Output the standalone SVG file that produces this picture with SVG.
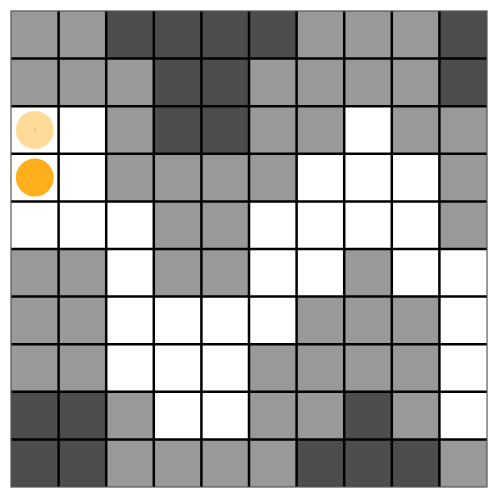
<svg xmlns="http://www.w3.org/2000/svg" width="499" height="499" viewBox="0 0 499 499">
<style>
.w{fill:#ffffff}.g{fill:#999999}.d{fill:#4d4d4d}
.grid line{stroke:#000;stroke-width:2.5}
</style>
<rect width="499" height="499" fill="#fff"/>
<g id="cells">
<!-- row 0 -->
<rect class="g" x="11" y="11" width="47.6" height="47.6"/><rect class="g" x="58.6" y="11" width="47.6" height="47.6"/><rect class="d" x="106.2" y="11" width="47.6" height="47.6"/><rect class="d" x="153.8" y="11" width="47.6" height="47.6"/><rect class="d" x="201.4" y="11" width="47.6" height="47.6"/><rect class="d" x="249" y="11" width="47.6" height="47.6"/><rect class="g" x="296.6" y="11" width="47.6" height="47.6"/><rect class="g" x="344.2" y="11" width="47.6" height="47.6"/><rect class="g" x="391.8" y="11" width="47.6" height="47.6"/><rect class="d" x="439.4" y="11" width="47.6" height="47.6"/>
<!-- row 1 -->
<rect class="g" x="11" y="58.6" width="47.6" height="47.6"/><rect class="g" x="58.6" y="58.6" width="47.6" height="47.6"/><rect class="g" x="106.2" y="58.6" width="47.6" height="47.6"/><rect class="d" x="153.8" y="58.6" width="47.6" height="47.6"/><rect class="d" x="201.4" y="58.6" width="47.6" height="47.6"/><rect class="g" x="249" y="58.6" width="47.6" height="47.6"/><rect class="g" x="296.6" y="58.6" width="47.6" height="47.6"/><rect class="g" x="344.2" y="58.6" width="47.6" height="47.6"/><rect class="g" x="391.8" y="58.6" width="47.6" height="47.6"/><rect class="d" x="439.4" y="58.6" width="47.6" height="47.6"/>
<!-- row 2 -->
<rect class="w" x="11" y="106.2" width="47.6" height="47.6"/><rect class="w" x="58.6" y="106.2" width="47.6" height="47.6"/><rect class="g" x="106.2" y="106.2" width="47.6" height="47.6"/><rect class="d" x="153.8" y="106.2" width="47.6" height="47.6"/><rect class="d" x="201.4" y="106.2" width="47.6" height="47.6"/><rect class="g" x="249" y="106.2" width="47.6" height="47.6"/><rect class="g" x="296.6" y="106.2" width="47.6" height="47.6"/><rect class="w" x="344.2" y="106.2" width="47.6" height="47.6"/><rect class="g" x="391.8" y="106.2" width="47.6" height="47.6"/><rect class="g" x="439.4" y="106.2" width="47.6" height="47.6"/>
<!-- row 3 -->
<rect class="w" x="11" y="153.8" width="47.6" height="47.6"/><rect class="w" x="58.6" y="153.8" width="47.6" height="47.6"/><rect class="g" x="106.2" y="153.8" width="47.6" height="47.6"/><rect class="g" x="153.8" y="153.8" width="47.6" height="47.6"/><rect class="g" x="201.4" y="153.8" width="47.6" height="47.6"/><rect class="g" x="249" y="153.8" width="47.6" height="47.6"/><rect class="w" x="296.6" y="153.8" width="47.6" height="47.6"/><rect class="w" x="344.2" y="153.8" width="47.6" height="47.6"/><rect class="w" x="391.8" y="153.8" width="47.6" height="47.6"/><rect class="g" x="439.4" y="153.8" width="47.6" height="47.6"/>
<!-- row 4 -->
<rect class="w" x="11" y="201.4" width="47.6" height="47.6"/><rect class="w" x="58.6" y="201.4" width="47.6" height="47.6"/><rect class="w" x="106.2" y="201.4" width="47.6" height="47.6"/><rect class="g" x="153.8" y="201.4" width="47.6" height="47.6"/><rect class="g" x="201.4" y="201.4" width="47.6" height="47.6"/><rect class="w" x="249" y="201.4" width="47.6" height="47.6"/><rect class="w" x="296.6" y="201.4" width="47.6" height="47.6"/><rect class="w" x="344.2" y="201.4" width="47.6" height="47.6"/><rect class="w" x="391.8" y="201.4" width="47.6" height="47.6"/><rect class="g" x="439.4" y="201.4" width="47.6" height="47.6"/>
<!-- row 5 -->
<rect class="g" x="11" y="249" width="47.6" height="47.6"/><rect class="g" x="58.6" y="249" width="47.6" height="47.6"/><rect class="w" x="106.2" y="249" width="47.6" height="47.6"/><rect class="g" x="153.8" y="249" width="47.6" height="47.6"/><rect class="g" x="201.4" y="249" width="47.6" height="47.6"/><rect class="w" x="249" y="249" width="47.6" height="47.6"/><rect class="w" x="296.6" y="249" width="47.6" height="47.6"/><rect class="g" x="344.2" y="249" width="47.6" height="47.6"/><rect class="w" x="391.8" y="249" width="47.6" height="47.6"/><rect class="w" x="439.4" y="249" width="47.6" height="47.6"/>
<!-- row 6 -->
<rect class="g" x="11" y="296.6" width="47.6" height="47.6"/><rect class="g" x="58.6" y="296.6" width="47.6" height="47.6"/><rect class="w" x="106.2" y="296.6" width="47.6" height="47.6"/><rect class="w" x="153.8" y="296.6" width="47.6" height="47.6"/><rect class="w" x="201.4" y="296.6" width="47.6" height="47.6"/><rect class="w" x="249" y="296.6" width="47.6" height="47.6"/><rect class="g" x="296.6" y="296.6" width="47.6" height="47.6"/><rect class="g" x="344.2" y="296.6" width="47.6" height="47.6"/><rect class="g" x="391.8" y="296.6" width="47.6" height="47.6"/><rect class="w" x="439.4" y="296.6" width="47.6" height="47.6"/>
<!-- row 7 -->
<rect class="g" x="11" y="344.2" width="47.6" height="47.6"/><rect class="g" x="58.6" y="344.2" width="47.6" height="47.6"/><rect class="w" x="106.2" y="344.2" width="47.6" height="47.6"/><rect class="w" x="153.8" y="344.2" width="47.6" height="47.6"/><rect class="w" x="201.4" y="344.2" width="47.6" height="47.6"/><rect class="g" x="249" y="344.2" width="47.6" height="47.6"/><rect class="g" x="296.6" y="344.2" width="47.6" height="47.6"/><rect class="g" x="344.2" y="344.2" width="47.6" height="47.6"/><rect class="g" x="391.8" y="344.2" width="47.6" height="47.6"/><rect class="w" x="439.4" y="344.2" width="47.6" height="47.6"/>
<!-- row 8 -->
<rect class="d" x="11" y="391.8" width="47.6" height="47.6"/><rect class="d" x="58.6" y="391.8" width="47.6" height="47.6"/><rect class="g" x="106.2" y="391.8" width="47.6" height="47.6"/><rect class="w" x="153.8" y="391.8" width="47.6" height="47.6"/><rect class="w" x="201.4" y="391.8" width="47.6" height="47.6"/><rect class="g" x="249" y="391.8" width="47.6" height="47.6"/><rect class="g" x="296.6" y="391.8" width="47.6" height="47.6"/><rect class="d" x="344.2" y="391.8" width="47.6" height="47.6"/><rect class="g" x="391.8" y="391.8" width="47.6" height="47.6"/><rect class="w" x="439.4" y="391.8" width="47.6" height="47.6"/>
<!-- row 9 -->
<rect class="d" x="11" y="439.4" width="47.6" height="47.6"/><rect class="d" x="58.6" y="439.4" width="47.6" height="47.6"/><rect class="g" x="106.2" y="439.4" width="47.6" height="47.6"/><rect class="g" x="153.8" y="439.4" width="47.6" height="47.6"/><rect class="g" x="201.4" y="439.4" width="47.6" height="47.6"/><rect class="g" x="249" y="439.4" width="47.6" height="47.6"/><rect class="d" x="296.6" y="439.4" width="47.6" height="47.6"/><rect class="d" x="344.2" y="439.4" width="47.6" height="47.6"/><rect class="d" x="391.8" y="439.4" width="47.6" height="47.6"/><rect class="g" x="439.4" y="439.4" width="47.6" height="47.6"/>
</g>
<g class="grid" id="grid">
<line x1="58.6" y1="11" x2="58.6" y2="487"/><line x1="106.2" y1="11" x2="106.2" y2="487"/><line x1="153.8" y1="11" x2="153.8" y2="487"/><line x1="201.4" y1="11" x2="201.4" y2="487"/><line x1="249" y1="11" x2="249" y2="487"/><line x1="296.6" y1="11" x2="296.6" y2="487"/><line x1="344.2" y1="11" x2="344.2" y2="487"/><line x1="391.8" y1="11" x2="391.8" y2="487"/><line x1="439.4" y1="11" x2="439.4" y2="487"/>
<line x1="11" y1="58.6" x2="487" y2="58.6"/><line x1="11" y1="106.2" x2="487" y2="106.2"/><line x1="11" y1="153.8" x2="487" y2="153.8"/><line x1="11" y1="201.4" x2="487" y2="201.4"/><line x1="11" y1="249" x2="487" y2="249"/><line x1="11" y1="296.6" x2="487" y2="296.6"/><line x1="11" y1="344.2" x2="487" y2="344.2"/><line x1="11" y1="391.8" x2="487" y2="391.8"/><line x1="11" y1="439.4" x2="487" y2="439.4"/>
</g>
<rect id="border" x="11" y="11" width="476" height="476" fill="none" stroke="#555" stroke-width="1.2"/>
<g id="agent-ghost"><circle cx="34.8" cy="130" r="19" fill="#fedb99"/><line x1="35" y1="127.5" x2="35" y2="132.5" stroke="#f5b14a" stroke-width="1"/></g>
<g id="agent"><circle cx="34.8" cy="177.6" r="19" fill="#ffae1c"/></g>
</svg>
